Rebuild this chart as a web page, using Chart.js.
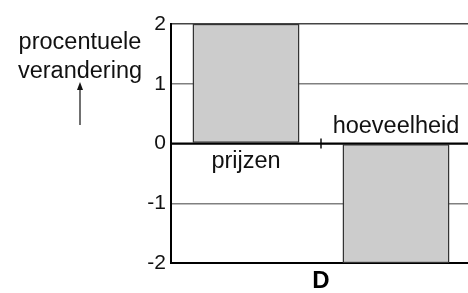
<!DOCTYPE html>
<html>
<head>
<meta charset="utf-8">
<script src="https://cdn.jsdelivr.net/npm/chart.js@4"></script>
<style>
  html, body { margin: 0; padding: 0; background: #fff; overflow: hidden; }
  #wrap { width: 472px; height: 293px; }
</style>
</head>
<body>
<div id="wrap"><canvas id="chart" width="472" height="293"></canvas></div>
<script>
const categories = ['prijzen', 'hoeveelheid'];
const changes = [2, -2];
const yTicks = [2, 1, 0, -1, -2];
const yTitle = ['procentuele', 'verandering'];
const chartTitle = 'D';

const FONT = '"Liberation Sans", Arial, sans-serif';

// labels, tick at the category boundary and the y title with its arrow
const extras = {
  id: 'extras',
  afterDatasetsDraw(chart) {
    const ctx = chart.ctx;
    const x = chart.scales.x;
    const y = chart.scales.y;
    const zero = y.getPixelForValue(0);
    ctx.save();
    ctx.fillStyle = '#111';
    ctx.font = '23.5px ' + FONT;
    ctx.textAlign = 'center';
    categories.forEach((c, i) => {
      const cx = x.getPixelForValue(i);
      if (changes[i] >= 0) {
        ctx.textBaseline = 'top';
        ctx.fillText(c, cx, zero + 6);
      } else {
        ctx.textBaseline = 'bottom';
        ctx.fillText(c, cx, zero - 5);
      }
    });
    // small tick between the two categories
    const bx = (x.getPixelForValue(0) + x.getPixelForValue(1)) / 2;
    ctx.strokeStyle = '#111';
    ctx.lineWidth = 1.5;
    ctx.beginPath();
    ctx.moveTo(bx, zero - 5);
    ctx.lineTo(bx, zero + 5);
    ctx.stroke();

    // y title
    ctx.textBaseline = 'alphabetic';
    ctx.fillText(yTitle[0], 80, 49);
    ctx.fillText(yTitle[1], 80, 78);
    ctx.lineWidth = 1.2;
    ctx.beginPath();
    ctx.moveTo(80, 125);
    ctx.lineTo(80, 86);
    ctx.stroke();
    ctx.beginPath();
    ctx.moveTo(80, 82);
    ctx.lineTo(77, 90);
    ctx.lineTo(83, 90);
    ctx.closePath();
    ctx.fill();

    // zero line on top of bars
    ctx.strokeStyle = '#000';
    ctx.lineWidth = 2;
    ctx.beginPath();
    ctx.moveTo(chart.chartArea.left, zero);
    ctx.lineTo(chart.chartArea.right, zero);
    ctx.stroke();
    ctx.restore();
  }
};

new Chart(document.getElementById('chart'), {
  type: 'bar',
  data: {
    labels: categories,
    datasets: [{
      data: changes,
      backgroundColor: '#cccccc',
      borderColor: '#333333',
      borderWidth: 1.5,
      borderSkipped: false,
      barPercentage: 0.713,
      categoryPercentage: 1
    }]
  },
  options: {
    responsive: false,
    animation: false,
    events: [],
    layout: { padding: { top: 24, right: 1, left: 0, bottom: 0 } },
    plugins: { legend: { display: false }, tooltip: { enabled: false } },
    scales: {
      x: {
        grid: { display: false },
        border: { color: '#000', width: 2 },
        ticks: { display: false },
        title: {
          display: true,
          text: chartTitle,
          color: '#000',
          font: { family: FONT, size: 24, weight: 'bold', lineHeight: 1 },
          padding: { top: 4, bottom: 0 }
        },
        afterFit(s) { s.height = 30; }
      },
      y: {
        min: -2,
        max: 2,
        afterBuildTicks(s) { s.ticks = yTicks.map(v => ({ value: v })); },
        grid: {
          drawTicks: false,
          color: c => c.tick.value === 0 ? '#000' : (c.tick.value === 2 ? '#444' : '#808080'),
          lineWidth: c => c.tick.value === -2 ? 0 : 1.5
        },
        border: { color: '#000', width: 2 },
        ticks: {
          color: '#111',
          padding: 5,
          font: { family: FONT, size: 21 },
          callback: v => String(v)
        },
        afterFit(s) { s.width = 171; }
      }
    }
  },
  plugins: [extras]
});
</script>
</body>
</html>
